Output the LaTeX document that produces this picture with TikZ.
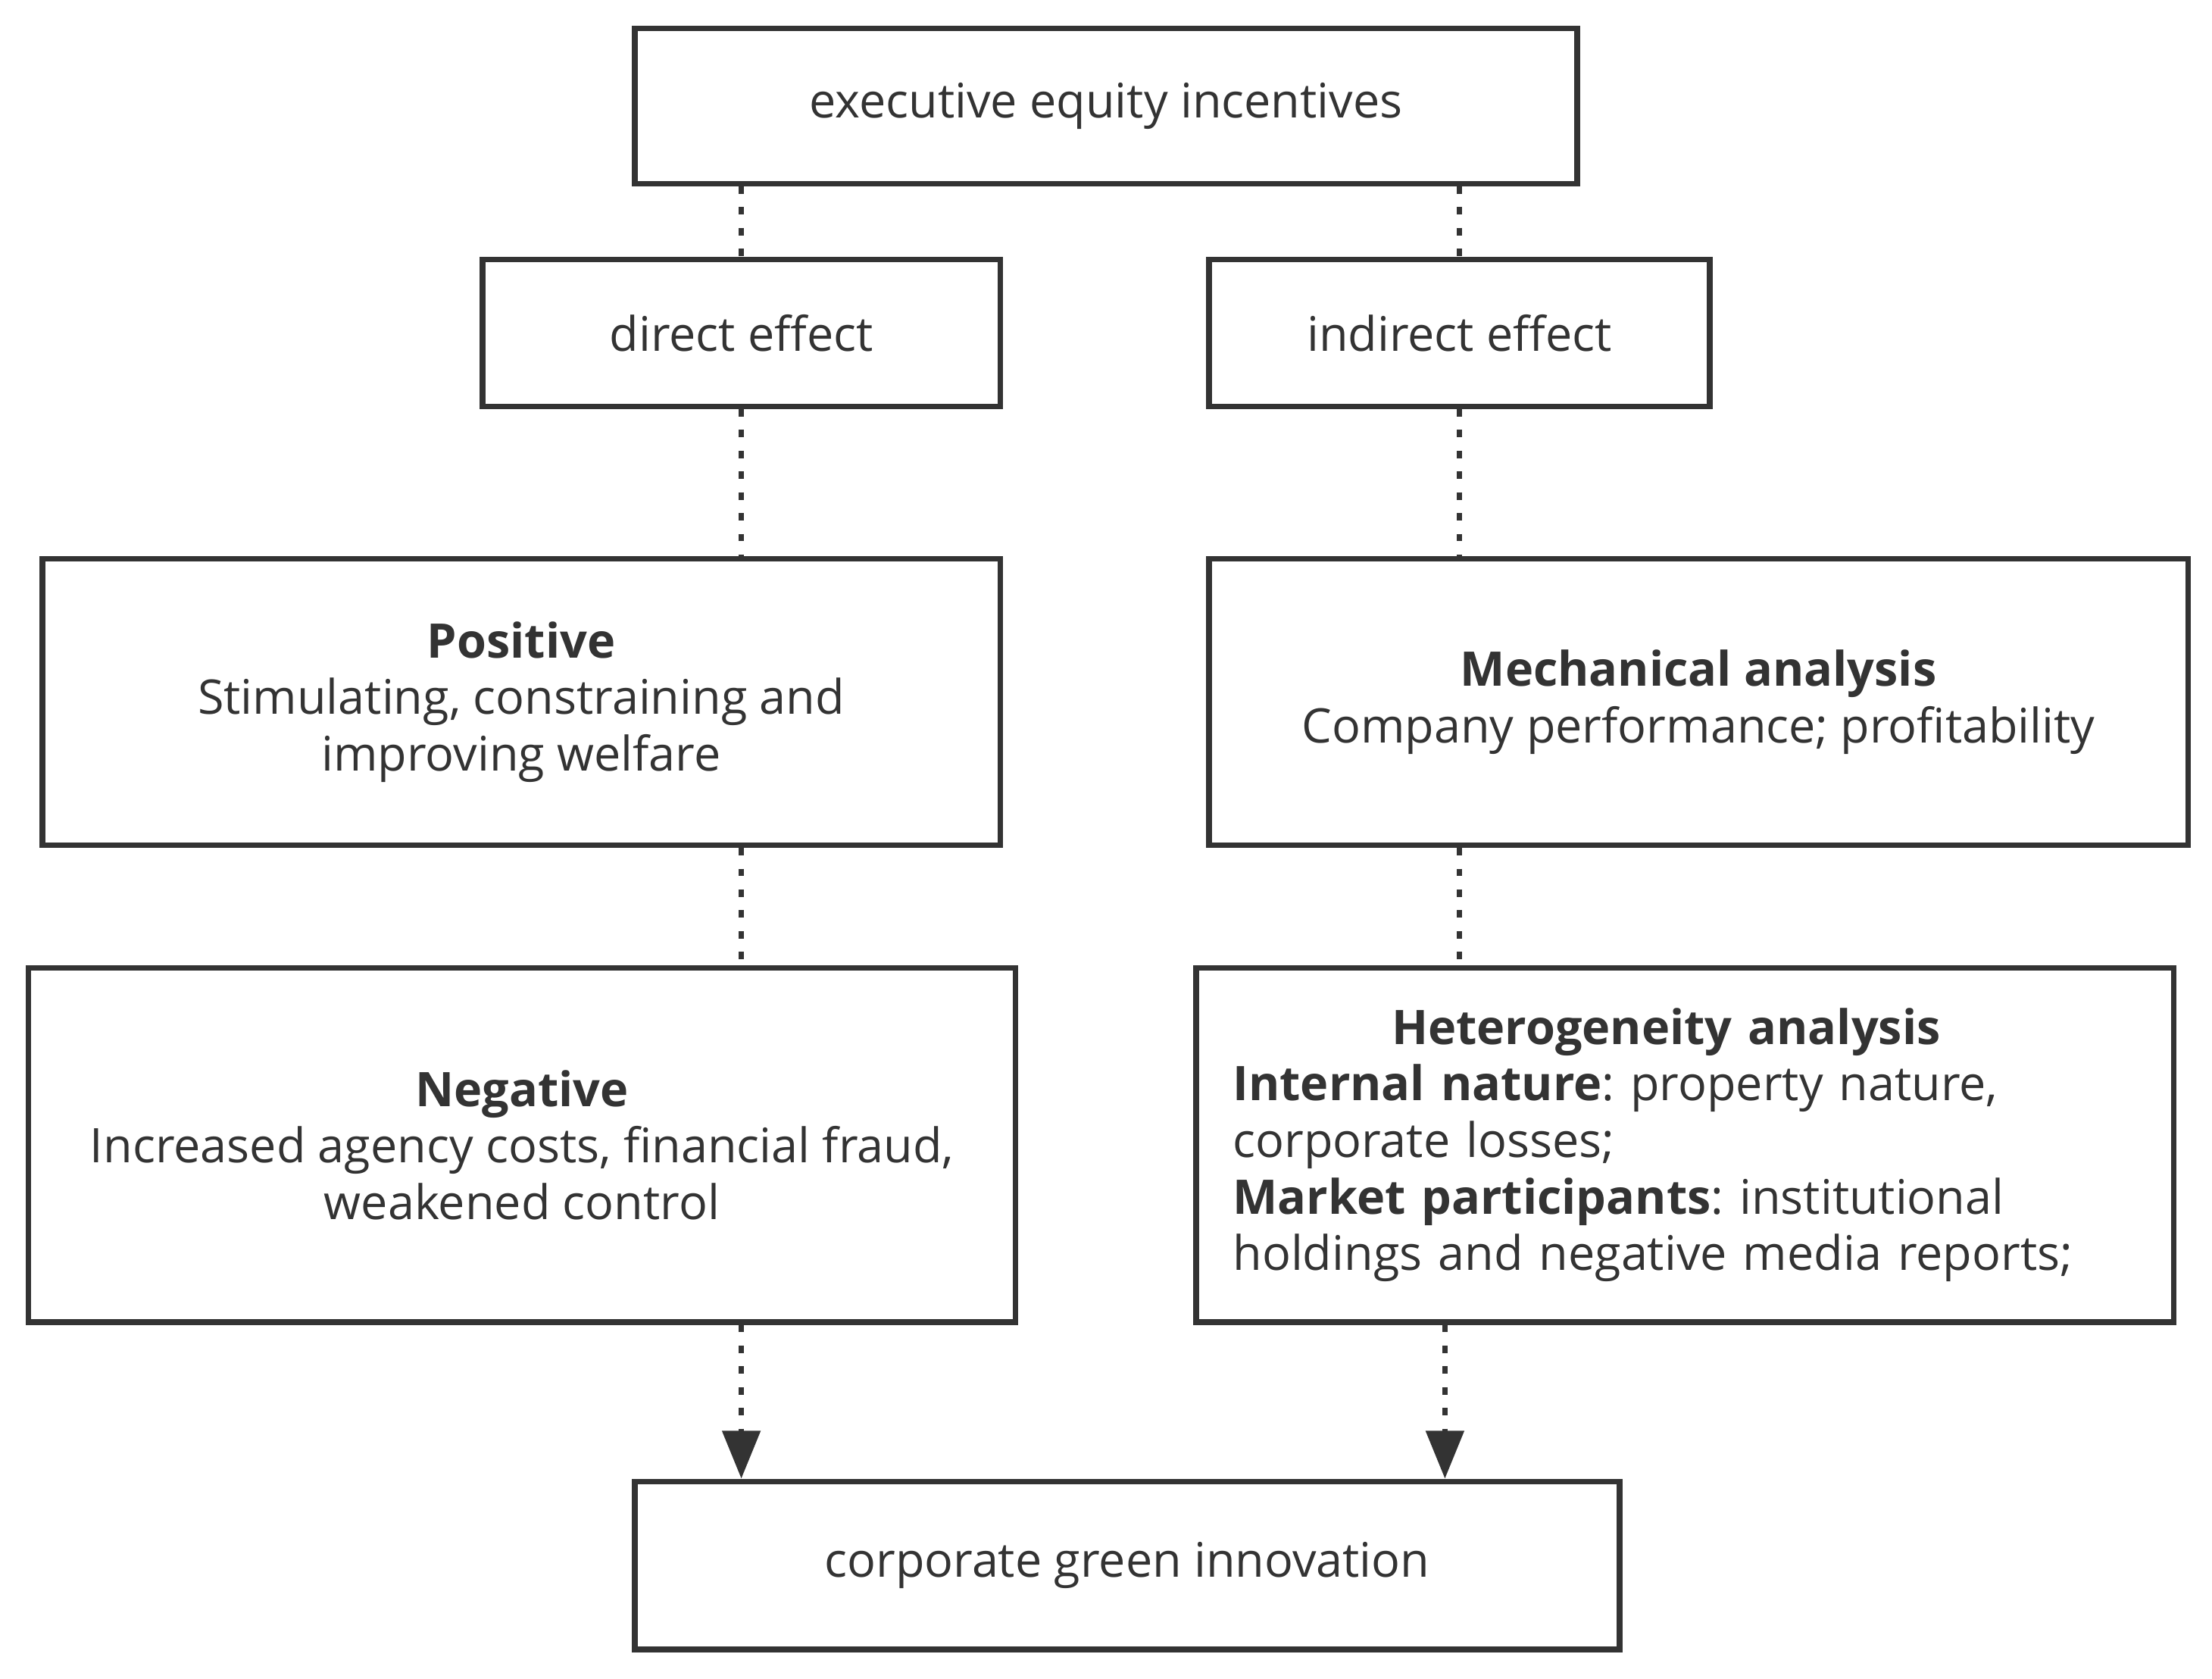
\documentclass[tikz,border=0pt]{standalone}
\usepackage{fontspec}
\setmainfont{Open Sans}
\frenchspacing
\definecolor{boxgray}{RGB}{51,51,51}
\usetikzlibrary{calc}
\usetikzlibrary{positioning, arrows.meta}
\tikzset{
  box/.style={draw=boxgray, line width=2.1pt, text=boxgray, align=center, inner sep=0pt,
    font=\fontsize{17.9pt}{21.25pt}\selectfont},
  link/.style={draw=boxgray, line width=2.2pt, dash pattern=on 2.8pt off 5pt},
  arrow/.style={link, -{Triangle[length=18pt,width=14pt]}}
}

\begin{document}
\begin{tikzpicture}
  \useasboundingbox (0,0) rectangle (29.2,-22.16);

  \node [box, minimum width=12.44cm, minimum height=2.05cm] (exec) at (14.60,-1.397) {executive equity incentives};
  \node [box, minimum width=6.834cm, minimum height=1.937cm] (direct) at (9.786,-4.395) {direct effect};
  \node [box, minimum width=6.611cm, minimum height=1.937cm] (indirect) at (19.264,-4.395) {indirect effect};

  % direct side
  \node [box, minimum width=12.644cm, minimum height=3.78cm] (pos) at (6.881,-9.264)
    {\textbf{Positive}\\Stimulating, constraining and\\improving welfare};
  \node [box, minimum width=13.035cm, minimum height=4.674cm] (neg) at (6.890,-15.112)
    {\textbf{Negative}\\Increased agency costs, financial fraud,\\weakened control};

  % indirect side
  \node [box, minimum width=12.924cm, minimum height=3.78cm] (mech) at (22.421,-9.264)
    {\textbf{Mechanical analysis}\\Company performance; profitability};
  \node [box, minimum width=12.905cm, minimum height=4.674cm, text width=11.94cm, align=left] (het) at (22.244,-15.112)
    {\hfill\textbf{Heterogeneity analysis}\hspace*{0.5cm}\hfill\null\\
     \textbf{Internal nature}: property nature,\\
     corporate losses;\\
     \textbf{Market participants}: institutional\\
     holdings and negative media reports;};

  \node [box, minimum width=12.998cm, minimum height=2.216cm] (green) at (14.879,-20.661) {corporate green innovation};

  \draw [link] (exec.south -| direct) -- (direct.north);
  \draw [link] (exec.south -| indirect) -- (indirect.north);
  \draw [link] (direct.south) -- (direct.south |- pos.north);
  \draw [link] (indirect.south) -- (indirect.south |- mech.north);
  \draw [link] (pos.south -| direct) -- (neg.north -| direct);
  \draw [link] (mech.south -| indirect) -- (het.north -| indirect);

  % to green innovation
  \draw [arrow] (neg.south -| direct) -- (green.north -| direct);
  \draw [arrow] ($(het.south -| indirect)+(-0.19,0)$) -- ($(green.north -| indirect)+(-0.19,0)$);

\end{tikzpicture}
\end{document}
